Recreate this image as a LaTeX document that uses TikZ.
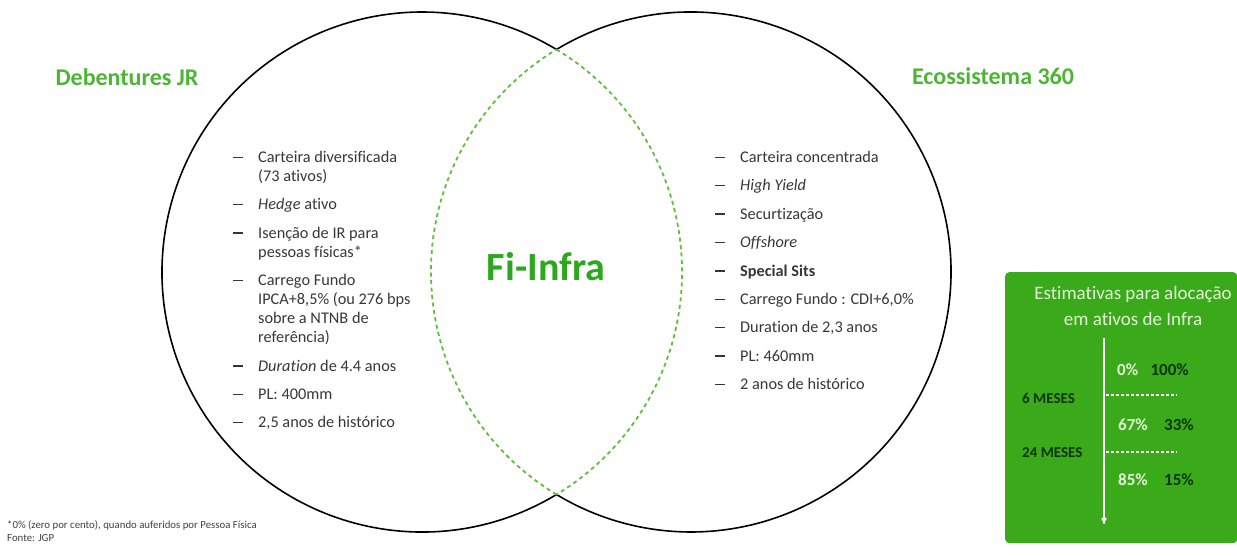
\documentclass[tikz,border=0pt]{standalone}
\usepackage{fontspec}
\setmainfont{Carlito}[Ligatures={TeX,CommonOff}]
\usetikzlibrary{arrows, positioning}

\definecolor{titlegreen}{RGB}{76,182,52}
\definecolor{infragreen}{RGB}{44,168,30}
\definecolor{lensgreen}{RGB}{96,190,60}
\definecolor{boxgreen}{RGB}{58,170,26}
\definecolor{textgray}{RGB}{55,55,55}
\definecolor{palegreen}{RGB}{226,244,214}
\definecolor{darkgreen}{RGB}{14,52,8}

\newcommand{\listfont}{\fontsize{16.3}{19}\selectfont}
\newcommand{\bul}[1]{\begin{tabular}{@{}p{25pt}@{}l@{}}\rule[4.6pt]{10pt}{1.3pt}&#1\end{tabular}}

\tikzset{
  ring/.style={draw=black, line width=1.6pt},
  lens/.style={draw=lensgreen, line width=1.8pt, dash pattern=on 4pt off 3.5pt},
  heading/.style={font=\fontsize{24}{28}\selectfont\bfseries, text=titlegreen},
  item/.style={anchor=north west, inner sep=0pt, text=textgray, font=\listfont},
  infobox/.style={fill=boxgreen, rounded corners=4pt, anchor=north west,
    minimum width=232, minimum height=271, inner sep=0pt},
  boxhead/.style={font=\fontsize{19}{26}\selectfont, text=palegreen, align=center},
  pctlight/.style={font=\fontsize{17}{20}\selectfont\bfseries, text=palegreen, inner sep=0pt},
  pctdark/.style={font=\fontsize{17}{20}\selectfont\bfseries, text=darkgreen, inner sep=0pt},
  months/.style={font=\fontsize{15}{18}\selectfont\bfseries, text=darkgreen, inner sep=0pt, anchor=west},
  note/.style={font=\fontsize{10.8}{13}\selectfont, text=darkgray, inner sep=0pt}
}

\begin{document}
\begin{tikzpicture}[x=1pt, y=-1pt, >=stealth']
 \useasboundingbox (0,0) rectangle (1237,556);

 % the two sets
 \coordinate (lc) at (422,272);
 \coordinate (rc) at (691,272);
 \draw [ring] (lc) ++(58.85:260) arc [start angle=58.85, end angle=301.15, radius=260];
 \draw [ring] (rc) ++(-121.15:260) arc [start angle=-121.15, end angle=121.15, radius=260];
 \draw [lens] (lc) ++(-58.85:260) arc [start angle=-58.85, end angle=58.85, radius=260];
 \draw [lens] (rc) ++(121.15:260) arc [start angle=121.15, end angle=238.85, radius=260];

 \node [heading] (deb) at (127,77) {Debentures JR};
 \node [heading] (eco) at (993,76) {Ecossistema 360};
 \node [font=\fontsize{40}{44}\selectfont\bfseries, text=infragreen] (infra) at (546,267) {Fi-Infra};

 % left list
 \node [item] (l1) at (233,149) {\bul{Carteira diversificada\\&(73 ativos)}};
 \node [item, below=9pt of l1.south west, anchor=north west] (l2) {\bul{\textit{Hedge} ativo}};
 \node [item, below=9pt of l2.south west, anchor=north west] (l3) {\bul{Isenção de IR para\\&pessoas físicas*}};
 \node [item, below=9pt of l3.south west, anchor=north west] (l4) {\bul{Carrego Fundo\\&IPCA+8,5\% (ou 276 bps\\&sobre a NTNB de\\&referência)}};
 \node [item, below=9pt of l4.south west, anchor=north west] (l5) {\bul{\textit{Duration} de 4.4 anos}};
 \node [item, below=9pt of l5.south west, anchor=north west] (l6) {\bul{PL: 400mm}};
 \node [item, below=9pt of l6.south west, anchor=north west] (l7) {\bul{2,5 anos de histórico}};

 % right list
 \node [item] (r1) at (715,149) {\bul{Carteira concentrada}};
 \node [item, below=9pt of r1.south west, anchor=north west] (r2) {\bul{\textit{High Yield}}};
 \node [item, below=9pt of r2.south west, anchor=north west] (r3) {\bul{Securtização}};
 \node [item, below=9pt of r3.south west, anchor=north west] (r4) {\bul{\textit{Offshore}}};
 \node [item, below=9pt of r4.south west, anchor=north west] (r5) {\bul{\textbf{Special Sits}}};
 \node [item, below=9pt of r5.south west, anchor=north west] (r6) {\bul{Carrego Fundo : CDI+6,0\%}};
 \node [item, below=9pt of r6.south west, anchor=north west] (r7) {\bul{Duration de 2,3 anos}};
 \node [item, below=9pt of r7.south west, anchor=north west] (r8) {\bul{PL: 460mm}};
 \node [item, below=9pt of r8.south west, anchor=north west] (r9) {\bul{2 anos de histórico}};

 % allocation box
 \node [infobox] (box) at (1005,272) {};
 \node [boxhead] (head) at (1133,306) {Estimativas para alocação\\em ativos de Infra};
 \coordinate (tstart) at (1104,338);
 \coordinate (tend) at (1104,524);
 \draw [->, draw=white, line width=1.2pt] (tstart) -- (tend);
 \coordinate (cut1a) at (1106,395);
 \coordinate (cut1b) at (1177,395);
 \coordinate (cut2a) at (1106,452);
 \coordinate (cut2b) at (1177,452);
 \draw [white, line width=1.2pt, dash pattern=on 3pt off 2pt] (cut1a) -- (cut1b);
 \draw [white, line width=1.2pt, dash pattern=on 3pt off 2pt] (cut2a) -- (cut2b);

 \node [pctlight, anchor=west] (a1) at (1117,370) {0\%};
 \node [pctdark, right=12pt of a1] (b1) {100\%};
 \node [pctlight, anchor=west] (a2) at (1118,425) {67\%};
 \node [pctdark, right=16pt of a2] (b2) {33\%};
 \node [pctlight, anchor=west] (a3) at (1118,480) {85\%};
 \node [pctdark, right=16pt of a3] (b3) {15\%};
 \node [months] (m6) at (1022,398) {6 MESES};
 \node [months] (m24) at (1022,453) {24 MESES};

 % footnote
 \node [note, anchor=west] (fn1) at (7,525) {*0\% (zero por cento), quando auferidos por Pessoa Física};
 \node [note, below=4pt of fn1.south west, anchor=north west] (fn2) {Fonte: JGP};
\end{tikzpicture}
\end{document}
